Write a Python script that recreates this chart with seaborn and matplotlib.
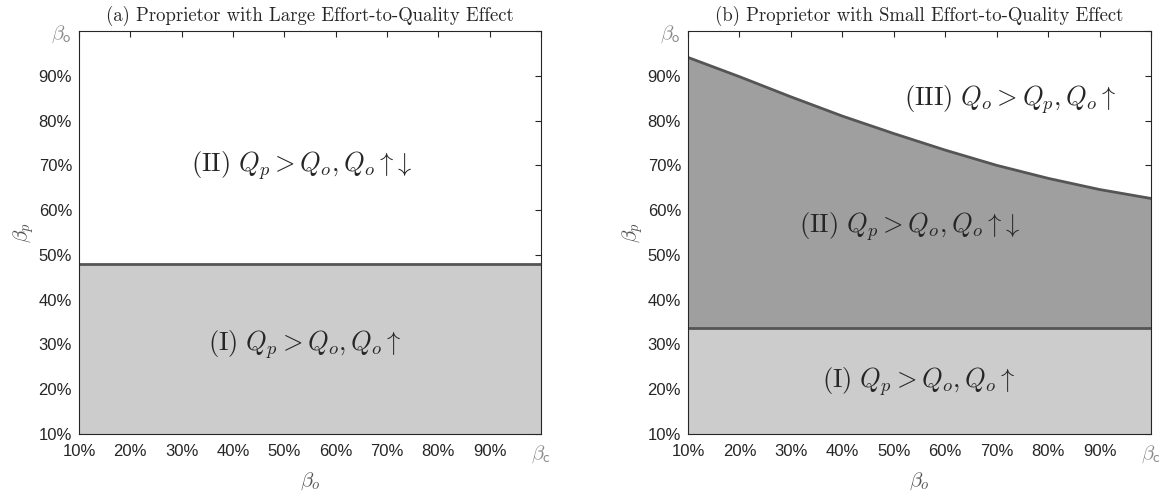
import numpy as np
import pandas as pd
import matplotlib
matplotlib.use("Agg")
import matplotlib.pyplot as plt
import seaborn as sns

# Owner's revenue share grid (x axis) and ticks
beta_o_ticks = [0.1, 0.2, 0.3, 0.4, 0.5, 0.6, 0.7, 0.8, 0.9, 1.0]
x_tick_labels = ["10%", "20%", "30%", "40%", "50%", "60%", "70%", "80%", "90%",
                 r"$\beta_{\mathsf{c}}$"]
y_tick_labels = ["10%", "20%", "30%", "40%", "50%", "60%", "70%", "80%", "90%",
                 r"$\beta_{\mathsf{o}}$"]

# (a) large effort-to-quality effect: single flat threshold on beta_p
large_x = [0.1, 1.0]
large_threshold = [0.479, 0.479]

# (b) small effort-to-quality effect: flat lower threshold and decreasing upper threshold
small_x = [0.1, 0.2, 0.3, 0.4, 0.5, 0.6, 0.7, 0.8, 0.9, 1.0]
small_lower = [0.337, 0.337, 0.337, 0.337, 0.337, 0.337, 0.337, 0.337, 0.337, 0.337]
small_upper = [0.941, 0.898, 0.853, 0.810, 0.771, 0.734, 0.700, 0.671, 0.646, 0.626]

region_labels_a = [
    (0.534, 0.700, r"$\mathrm{(II)}\ Q_p > Q_o, Q_o \uparrow\!\downarrow$"),
    (0.540, 0.299, r"$\mathrm{(I)}\ Q_p > Q_o, Q_o \uparrow$"),
]
region_labels_b = [
    (0.726, 0.846, r"$\mathrm{(III)}\ Q_o > Q_p, Q_o \uparrow$"),
    (0.531, 0.564, r"$\mathrm{(II)}\ Q_p > Q_o, Q_o \uparrow\!\downarrow$"),
    (0.548, 0.218, r"$\mathrm{(I)}\ Q_p > Q_o, Q_o \uparrow$"),
]

sns.set_style("white")
plt.rcParams["font.family"] = ["Liberation Sans", "DejaVu Sans"]
plt.rcParams["mathtext.fontset"] = "cm"
plt.rcParams["xtick.direction"] = "in"
plt.rcParams["ytick.direction"] = "in"

LIGHT = "#cccccc"
DARK = "#9f9f9f"
EDGE = "#555555"
TXT = "#262626"

fig = plt.figure(figsize=(11.64, 4.95), dpi=100)
ax_a = fig.add_axes([79 / 1164, 61 / 495, 462 / 1164, 403 / 495])
ax_b = fig.add_axes([688 / 1164, 61 / 495, 463 / 1164, 403 / 495])

df_a = pd.DataFrame({"beta_o": large_x, "beta_p": large_threshold})
df_b = pd.DataFrame({"beta_o": small_x, "lower": small_lower, "upper": small_upper})

# Panel (a)
ax_a.fill_between(df_a["beta_o"], 0.1, df_a["beta_p"], color=LIGHT, lw=0)
sns.lineplot(data=df_a, x="beta_o", y="beta_p", ax=ax_a, color=EDGE, lw=2)

# Panel (b)
ax_b.fill_between(df_b["beta_o"], 0.1, df_b["lower"], color=LIGHT, lw=0)
ax_b.fill_between(df_b["beta_o"], df_b["lower"], df_b["upper"], color=DARK, lw=0)
sns.lineplot(data=df_b, x="beta_o", y="lower", ax=ax_b, color=EDGE, lw=2)
sns.lineplot(data=df_b, x="beta_o", y="upper", ax=ax_b, color=EDGE, lw=2)

titles = ["(a) Proprietor with Large Effort-to-Quality Effect",
          "(b) Proprietor with Small Effort-to-Quality Effect"]

for ax, title, labels in [(ax_a, titles[0], region_labels_a),
                          (ax_b, titles[1], region_labels_b)]:
    ax.set_xlim(0.1, 1.0)
    ax.set_ylim(0.1, 1.0)
    ax.set_xticks(beta_o_ticks)
    ax.set_xticklabels(x_tick_labels)
    ax.set_yticks(beta_o_ticks)
    ax.set_yticklabels(y_tick_labels)
    ax.tick_params(axis="both", which="both", top=True, right=True,
                   direction="in", length=4, width=0.8, color=TXT,
                   labelsize=12, labelcolor=TXT)
    ax.tick_params(axis="x", pad=7)
    ax.tick_params(axis="y", pad=5)
    # symbolic end-of-range labels drawn larger, with a grey beta
    ax.get_xticklabels()[-1].set_fontsize(15)
    ax.get_xticklabels()[-1].set_color("#8a8a8a")
    ax.get_yticklabels()[-1].set_fontsize(15)
    ax.get_yticklabels()[-1].set_color("#8a8a8a")
    for s in ax.spines.values():
        s.set_color(TXT)
        s.set_linewidth(0.8)
        s.set_visible(True)
    ax.set_xlabel(r"$\beta_o$", fontsize=15, color="#555555")
    ax.xaxis.set_label_coords(0.5, -0.09)
    ax.set_ylabel(r"$\beta_p$", fontsize=15, color="#555555", labelpad=2)
    ax.set_title(title, fontfamily="cmr10", fontsize=13.5, color=TXT, pad=7)
    for x, y, s in labels:
        ax.text(x, y, s, ha="center", va="center", fontsize=19, color=TXT)
    ax.set_facecolor("white")

fig.savefig("out.png", dpi=100)
